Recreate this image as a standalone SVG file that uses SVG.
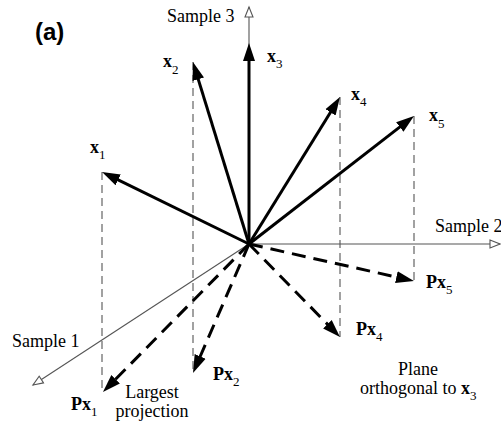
<svg xmlns="http://www.w3.org/2000/svg" width="501" height="426" viewBox="0 0 501 426">
<style>
text{font-family:"Liberation Serif","Times New Roman",serif;font-size:18px;fill:#000}
.b{font-weight:bold}
.s{font-size:13px;font-weight:normal}
.lbl{font-family:"Liberation Sans",Arial,sans-serif;font-weight:bold;font-size:24px}
.axis{stroke:#555;stroke-width:1.1;fill:none;marker-end:url(#open)}
.proj{stroke:#555;stroke-width:1.1;stroke-dasharray:8,5;fill:none}
.vec{stroke:#000;stroke-width:3;fill:none;marker-end:url(#solid)}
.pvec{stroke:#000;stroke-width:3;stroke-dasharray:14,8;fill:none;marker-end:url(#solid)}
</style>
<defs>
<marker id="solid" markerUnits="userSpaceOnUse" markerWidth="20" markerHeight="14" viewBox="0 -7 20 14" refX="8" refY="0" orient="auto">
<path d="M0,-6 L18,0 L0,6 Z" fill="#000"/>
</marker>
<marker id="open" markerUnits="userSpaceOnUse" markerWidth="14" markerHeight="12" viewBox="-1 -6 14 12" refX="10" refY="0" orient="auto">
<path d="M0,-4 L10,0 L0,4 Z" fill="#fff" stroke="#555" stroke-width="1.1"/>
</marker>
</defs>
<text class="lbl" x="35" y="40">(a)</text>
<g id="axes">
<line id="axis1" class="axis" x1="249" y1="244" x2="33" y2="385"/>
<line id="axis2" class="axis" x1="249" y1="244" x2="500" y2="244"/>
<line id="axis3" class="axis" x1="249" y1="244" x2="249" y2="7"/>
</g>
<g id="connectors">
<line class="proj" x1="102" y1="172" x2="102" y2="392"/>
<line class="proj" x1="193" y1="62" x2="193" y2="373"/>
<line class="proj" x1="340" y1="97" x2="340" y2="337"/>
<line class="proj" x1="414" y1="116" x2="414" y2="281"/>
<line class="vec" x1="249" y1="244" x2="111" y2="176.4"/>
<line class="vec" x1="249" y1="244" x2="195.9" y2="71.6"/>
<line class="vec" x1="249" y1="244" x2="249" y2="53"/>
<line class="vec" x1="249" y1="244" x2="334.7" y2="105.5"/>
<line class="vec" x1="249" y1="244" x2="406.1" y2="122.1"/>
<line class="pvec" x1="249" y1="244" x2="110" y2="384.9"/>
<line class="pvec" x1="249" y1="244" x2="197" y2="363.8"/>
<line class="pvec" x1="249" y1="244" x2="333" y2="329.9"/>
<line class="pvec" x1="249" y1="244" x2="404.2" y2="278.8"/>
</g>
<g id="sample1"><text x="12" y="347">Sample 1</text></g>
<g id="sample2"><text x="435" y="232">Sample 2</text></g>
<g id="sample3"><text x="167" y="22">Sample 3</text></g>
<g id="x1"><text class="b" x="90" y="153">x<tspan class="s" dy="6">1</tspan></text></g>
<g id="x2"><text class="b" x="163" y="67">x<tspan class="s" dy="7">2</tspan></text></g>
<g id="x3"><text class="b" x="267" y="62">x<tspan class="s" dy="6">3</tspan></text></g>
<g id="x4"><text class="b" x="351" y="100">x<tspan class="s" dy="6">4</tspan></text></g>
<g id="x5"><text class="b" x="429" y="121">x<tspan class="s" dy="7">5</tspan></text></g>
<g id="Px1"><text class="b" x="71" y="410">Px<tspan class="s" dy="6">1</tspan></text></g>
<g id="Px2"><text class="b" x="213" y="380">Px<tspan class="s" dy="6">2</tspan></text></g>
<g id="Px4"><text class="b" x="356" y="335">Px<tspan class="s" dy="6">4</tspan></text></g>
<g id="Px5"><text class="b" x="426" y="288">Px<tspan class="s" dy="6">5</tspan></text></g>
<g id="largest"><text x="152" y="398" text-anchor="middle">Largest</text><text x="152" y="417" text-anchor="middle">projection</text></g>
<g id="plane"><text x="418" y="375" text-anchor="middle">Plane</text><text x="360" y="394">orthogonal to <tspan class="b">x</tspan><tspan class="s" dy="6">3</tspan></text></g>
</svg>
